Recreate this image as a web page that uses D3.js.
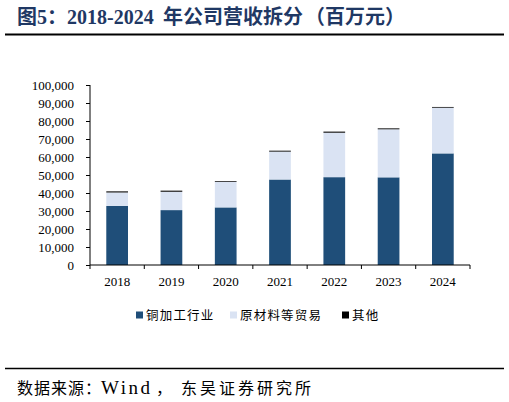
<!DOCTYPE html>
<html>
<head>
<meta charset="utf-8">
<script src="https://cdn.jsdelivr.net/npm/d3@7/dist/d3.min.js"></script>
<style>
  body { margin: 0; background: #fff; }
  svg { display: block; }
</style>
</head>
<body>
<script>
// values, millions of yuan
var years = ['2018', '2019', '2020', '2021', '2022', '2023', '2024'];
var copper = [32800, 30500, 32000, 47500, 48800, 48700, 62000];
var trade = [7500, 10200, 14200, 15500, 24700, 26700, 25400];
var other = [600, 600, 400, 500, 600, 500, 400];
var seriesNames = ['铜加工行业', '原材料等贸易', '其他'];
var seriesColors = ['#1f4e79', '#dae3f3', '#000000'];
var yTicks = [0, 10000, 20000, 30000, 40000, 50000, 60000, 70000, 80000, 90000, 100000];

var W = 509, H = 402;
var serif = '"Liberation Serif", "Times New Roman", serif';
var cjk = '"Noto Sans CJK SC", sans-serif';

var svg = d3.select('body').append('svg')
    .attr('width', W)
    .attr('height', H);

// title, pieces placed to match the original spacing
var title = svg.append('text')
    .attr('y', 24)
    .attr('fill', '#1f3864')
    .attr('font-weight', 'bold')
    .attr('font-size', '20px')
    .attr('font-family', serif + ', ' + cjk);
[['图5：', 17], ['2018-2024', 67], ['年公司营收拆分', 163], ['（百万元）', 305]].forEach(function(p) {
    title.append('tspan').attr('x', p[1]).text(p[0]);
});

svg.append('line')
    .attr('x1', 5).attr('x2', 504)
    .attr('y1', 34.5).attr('y2', 34.5)
    .attr('stroke', '#000')
    .attr('stroke-width', 2);

var x = d3.scaleBand()
    .domain(years)
    .range([90, 470])
    .paddingInner(0.6)
    .paddingOuter(0.3);

var y = d3.scaleLinear()
    .domain([0, 100000])
    .range([265, 85]);

var table = years.map(function(yr, i) {
    return { year: yr, copper: copper[i], trade: trade[i], other: other[i] };
});
var stack = d3.stack().keys(['copper', 'trade', 'other'])(table);

svg.append('g')
    .selectAll('g')
    .data(stack)
    .enter()
    .append('g')
    .attr('fill', function(d, i) { return seriesColors[i]; })
    .selectAll('rect')
    .data(function(d) { return d; })
    .enter()
    .append('rect')
    .attr('x', function(d) { return x(d.data.year); })
    .attr('width', x.bandwidth())
    .attr('y', function(d) { return y(d[1]); })
    .attr('height', function(d) { return y(d[0]) - y(d[1]); });

// y axis
var yAxis = svg.append('g')
    .attr('transform', 'translate(90,0)')
    .call(d3.axisLeft(y).tickValues(yTicks).tickSize(4).tickPadding(12)
        .tickFormat(d3.format(',')));
yAxis.selectAll('text')
    .attr('font-family', serif)
    .attr('font-size', '13px')
    .attr('fill', '#000');
yAxis.select('.domain').attr('d', 'M0,85V265');

// x axis with ticks at band edges
var xAxis = svg.append('g')
    .attr('transform', 'translate(0,265)');
xAxis.append('line')
    .attr('x1', 90).attr('x2', 470)
    .attr('stroke', '#000');
var edges = d3.range(years.length + 1).map(function(i) { return 90 + i * x.step(); });
xAxis.selectAll('line.tick')
    .data(edges)
    .enter()
    .append('line')
    .attr('class', 'tick')
    .attr('x1', function(d) { return d; })
    .attr('x2', function(d) { return d; })
    .attr('y1', 0).attr('y2', 4)
    .attr('stroke', '#000');
xAxis.selectAll('text')
    .data(years)
    .enter()
    .append('text')
    .attr('x', function(d) { return x(d) + x.bandwidth() / 2; })
    .attr('y', 21)
    .attr('text-anchor', 'middle')
    .attr('font-family', serif)
    .attr('font-size', '13px')
    .text(function(d) { return d; });

// legend
var legendX = [136, 230, 342];
var legend = svg.append('g')
    .selectAll('g')
    .data(seriesNames)
    .enter()
    .append('g')
    .attr('transform', function(d, i) { return 'translate(' + legendX[i] + ',315)'; });
legend.append('rect')
    .attr('x', 0).attr('y', -3.5)
    .attr('width', 7).attr('height', 7)
    .attr('fill', function(d, i) { return seriesColors[i]; });
legend.append('text')
    .attr('x', 10)
    .attr('y', 5)
    .attr('font-family', cjk)
    .attr('font-size', '12.5px')
    .attr('letter-spacing', '1.2px')
    .text(function(d) { return d; });

// source
svg.append('line')
    .attr('x1', 5).attr('x2', 504)
    .attr('y1', 368.5).attr('y2', 368.5)
    .attr('stroke', '#000')
    .attr('stroke-width', 1.5);
var src = svg.append('text')
    .attr('y', 394)
    .attr('font-family', serif + ', ' + cjk)
    .attr('font-size', '16px');
src.append('tspan').attr('x', 17).attr('letter-spacing', '1px').text('数据来源：');
src.append('tspan').attr('x', 101).attr('font-size', '19px').attr('letter-spacing', '2.5px').text('Wind');
src.append('tspan').attr('x', 156).text('，');
src.append('tspan').attr('x', 181).attr('letter-spacing', '3px').text('东吴证券研究所');
</script>
</body>
</html>
